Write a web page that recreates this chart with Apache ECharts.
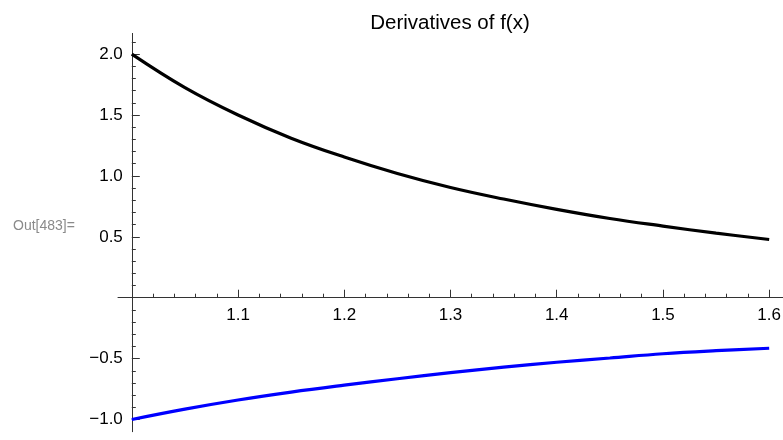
<!DOCTYPE html>
<html>
<head>
<meta charset="utf-8">
<script src="https://cdn.jsdelivr.net/npm/echarts@6/dist/echarts.min.js"></script>
<style>
  html, body { margin: 0; padding: 0; background: #fff; }
  #chart { width: 783px; height: 440px; }
</style>
</head>
<body>
<div id="chart"></div>
<script>
// Sample positions along x and the two derivative curves
const xValues = [1.00, 1.05, 1.10, 1.15, 1.20, 1.25, 1.30, 1.35, 1.40, 1.45, 1.50, 1.55, 1.60];
const firstDerivative = [2.00, 1.725, 1.50, 1.31, 1.155, 1.02, 0.905, 0.81, 0.725, 0.65, 0.588, 0.53, 0.478];
const secondDerivative = [-1.00, -0.915, -0.84, -0.775, -0.718, -0.665, -0.615, -0.57, -0.53, -0.495, -0.46, -0.435, -0.415];

// Tick labels
const xTicks = [1.1, 1.2, 1.3, 1.4, 1.5, 1.6];
const yTicks = [-1.0, -0.5, 0.5, 1.0, 1.5, 2.0];

// The vertical axis sits at x = 1, so x is plotted relative to 1
const X0 = 1.0;
const shift = v => +(v - X0).toFixed(4);

const fmt = v => {
  const s = v.toFixed(1);
  return s.charAt(0) === '-' ? '\u2212' + s.slice(1) : s;
};

// Minor ticks: every 0.02 in x, every 0.1 in y
const xMinor = [];
for (let i = 1; i <= 30; i++) { if (i % 5 !== 0) xMinor.push(+(i * 0.02).toFixed(4)); }
const yMinor = [];
for (let i = -10; i <= 21; i++) { if (i % 5 !== 0) yMinor.push(+(i * 0.1).toFixed(4)); }

const FONT = '"Liberation Sans", Arial, sans-serif';
const AXIS_COLOR = '#333';
const LABEL_GAP = 9;

const xMin = -0.013, xMax = 0.613;
const yMin = -1.1, yMax = 2.17;

const chart = echarts.init(document.getElementById('chart'), null, { renderer: 'canvas' });

chart.setOption({
  animation: false,
  backgroundColor: '#fff',
  title: [
    {
      text: 'Derivatives of f(x)',
      left: 445, top: 8,
      textAlign: 'center',
      textStyle: { fontFamily: FONT, fontSize: 20.5, fontWeight: 'normal', color: '#000' }
    },
    {
      text: 'Out[483]=',
      left: 8, top: 214,
      textStyle: { fontFamily: FONT, fontSize: 14, fontWeight: 'normal', color: '#8a8a8a' }
    }
  ],
  grid: { left: 118, right: 0, top: 33.4, bottom: 8.3, containLabel: false, outerBoundsMode: 'none' },
  xAxis: [
    {
      type: 'value', min: xMin, max: xMax,
      axisLine: { show: true, onZero: true, lineStyle: { color: AXIS_COLOR, width: 1 } },
      axisTick: { show: true, inside: true, length: 8, customValues: xTicks.map(shift),
                  lineStyle: { color: AXIS_COLOR, width: 1 } },
      axisLabel: { show: true, customValues: xTicks.map(shift), margin: LABEL_GAP,
                   formatter: v => fmt(v + X0),
                   fontFamily: FONT, fontSize: 17, color: '#000' },
      splitLine: { show: false }
    },
    {
      type: 'value', min: xMin, max: xMax, position: 'bottom',
      axisLine: { show: false, onZero: true },
      axisTick: { show: true, inside: true, length: 4, customValues: xMinor,
                  lineStyle: { color: AXIS_COLOR, width: 1 } },
      axisLabel: { show: false },
      splitLine: { show: false }
    }
  ],
  yAxis: [
    {
      type: 'value', min: yMin, max: yMax,
      axisLine: { show: true, onZero: true, lineStyle: { color: AXIS_COLOR, width: 1 } },
      axisTick: { show: true, inside: true, length: 8, customValues: yTicks,
                  lineStyle: { color: AXIS_COLOR, width: 1 } },
      axisLabel: { show: true, customValues: yTicks, margin: LABEL_GAP,
                   formatter: v => fmt(v),
                   fontFamily: FONT, fontSize: 17, color: '#000' },
      splitLine: { show: false }
    },
    {
      type: 'value', min: yMin, max: yMax, position: 'left',
      axisLine: { show: false, onZero: true },
      axisTick: { show: true, inside: true, length: 4, customValues: yMinor,
                  lineStyle: { color: AXIS_COLOR, width: 1 } },
      axisLabel: { show: false },
      splitLine: { show: false }
    }
  ],
  series: [
    {
      name: "f'(x)",
      type: 'line',
      xAxisIndex: 0, yAxisIndex: 0,
      data: xValues.map((x, i) => [shift(x), firstDerivative[i]]),
      smooth: 0.4,
      showSymbol: false,
      lineStyle: { color: '#000', width: 3.2 },
      z: 3
    },
    {
      name: "f''(x)",
      type: 'line',
      xAxisIndex: 0, yAxisIndex: 0,
      data: xValues.map((x, i) => [shift(x), secondDerivative[i]]),
      smooth: 0.4,
      showSymbol: false,
      lineStyle: { color: '#0000ff', width: 3.2 },
      z: 3
    }
  ]
});

// Axis lines cross at (1, 0) but labels are laid out from the grid edges,
// so pull each label set back next to its crossing axis line.
const zeroRow = chart.convertToPixel({ yAxisIndex: 0 }, 0);
const bottomRow = chart.convertToPixel({ yAxisIndex: 0 }, yMin);
const zeroCol = chart.convertToPixel({ xAxisIndex: 0 }, 0);
const leftCol = chart.convertToPixel({ xAxisIndex: 0 }, xMin);

chart.setOption({
  xAxis: [{ axisLabel: { margin: LABEL_GAP - (bottomRow - zeroRow) } }, {}],
  yAxis: [{ axisLabel: { margin: LABEL_GAP - (zeroCol - leftCol) } }, {}]
});
</script>
</body>
</html>
